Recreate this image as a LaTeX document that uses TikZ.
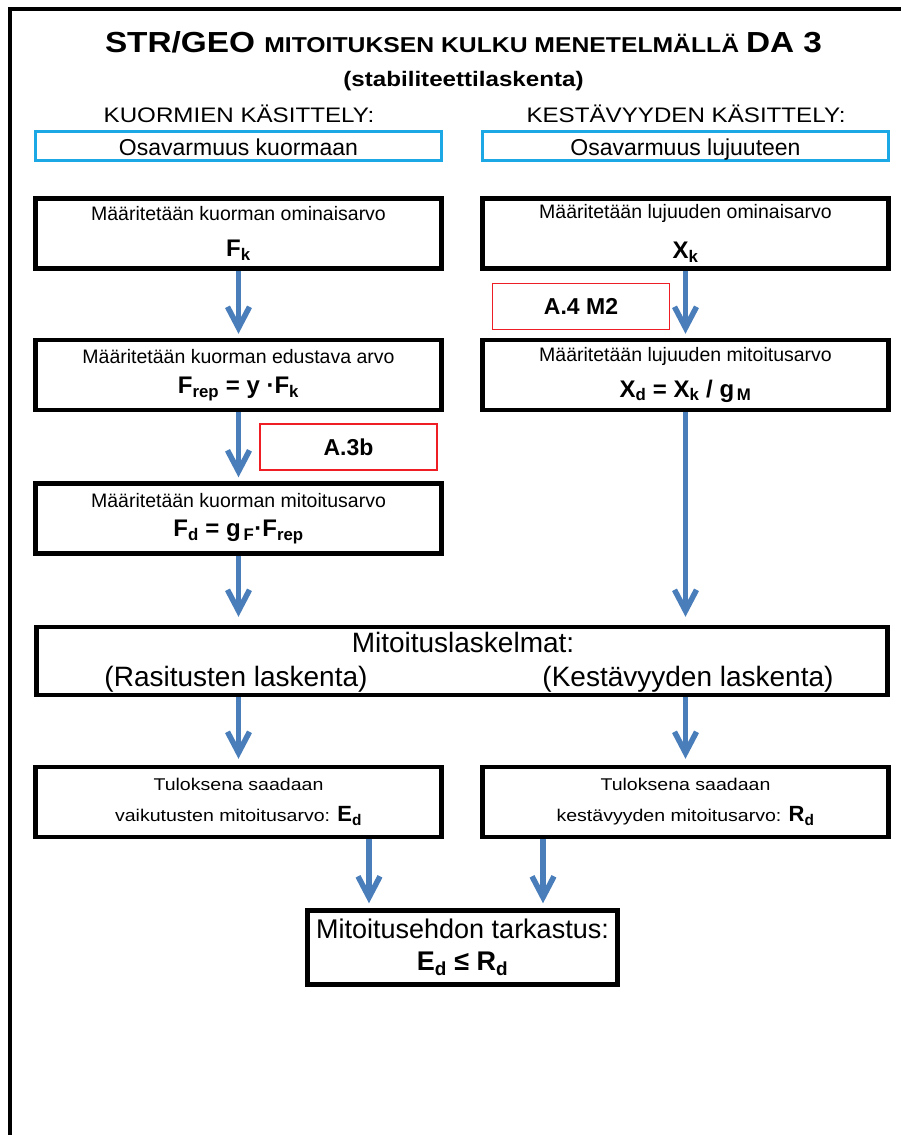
\documentclass[tikz,border=0pt]{standalone}
\usepackage{fontspec}
\setmainfont{Liberation Sans}
\newfontfamily\widefont[FakeStretch=1.15]{Liberation Sans}
\usetikzlibrary{arrows.meta}

\definecolor{arrowblue}{RGB}{74,126,187}
\definecolor{osacyan}{RGB}{28,168,228}
\definecolor{refred}{RGB}{238,30,36}

\newcommand{\fsz}[2]{\fontsize{#1}{#2}\selectfont}

\tikzset{
  stepbox/.style={draw, line width=4.5pt, minimum width=406pt, minimum height=70pt,
    align=center, inner sep=2pt},
  osabox/.style={draw=osacyan, line width=3pt, minimum width=406pt, minimum height=29pt,
    inner sep=0pt, text height=20pt, text depth=1pt, font=\fsz{23}{26}},
  refbox/.style={draw=refred, line width=1.5pt, minimum width=177pt, minimum height=46pt,
    font=\fsz{23}{26}\bfseries},
  arr/.style={draw=arrowblue, line width=5.5pt, shorten >=4pt,
    -{Straight Barb[length=21pt,width=22pt]}},
  bigtext/.style={anchor=base, font=\fsz{28}{32}},
  headtext/.style={anchor=base, font=\widefont\fsz{21}{25}}
}

\begin{document}
\begin{tikzpicture}[x=1pt,y=-1pt]
  % page
  \fill[white] (0,0) rectangle (901,1135);
  \useasboundingbox (0,0) rectangle (901,1135);

  % draw frame
  \draw[line width=4pt] (901,8.5) -- (10,8.5) -- (10,1135);

  % draw titles
  \node[anchor=base] (title) at (463.5,52) {\widefont\bfseries\fsz{29}{34}STR/GEO
    \fsz{21.5}{26}MITOITUKSEN KULKU MENETELMÄLLÄ \fsz{29}{34}DA 3};
  \node[anchor=base] (subtitle) at (463.5,86) {\widefont\bfseries\fsz{21}{25}(stabiliteettilaskenta)};
  \node[headtext] (headF) at (239,122) {KUORMIEN KÄSITTELY:};
  \node[headtext] (headX) at (686,122) {KESTÄVYYDEN KÄSITTELY:};

  % draw partial factor boxes
  \node[osabox] (osaF) at (238.5,146) {Osavarmuus kuormaan};
  \node[osabox] (osaX) at (685.5,146) {Osavarmuus lujuuteen};

  % draw load side
  \node[stepbox] (fk) at (238.5,233.5) {\fsz{19.5}{24}Määritetään kuorman ominaisarvo\\[18pt]
    \fsz{24}{26}\bfseries F\textsubscript{k}};
  \node[stepbox] (frep) at (238.5,375) {\fsz{19.5}{24}Määritetään kuorman edustava arvo\\[13pt]
    \fsz{24}{26}\bfseries F\textsubscript{rep} = y ·F\textsubscript{k}};
  \node[stepbox] (fd) at (238.5,518.5) {\fsz{19.5}{24}Määritetään kuorman mitoitusarvo\\[11pt]
    \fsz{24}{26}\bfseries F\textsubscript{d} = g\textsubscript{\,F}·F\textsubscript{rep}};
  \node[refbox] (a3b) at (348.5,447) {A.3b};

  % draw resistance side
  \node[stepbox] (xk) at (685.5,233.5) {\fsz{19.5}{24}Määritetään lujuuden ominaisarvo\\[18pt]
    \fsz{24}{26}\bfseries X\textsubscript{k}};
  \node[stepbox] (xd) at (685.5,375) {\fsz{19.5}{24}Määritetään lujuuden mitoitusarvo\\[13pt]
    \fsz{24}{26}\bfseries X\textsubscript{d} = X\textsubscript{k} / g\textsubscript{\,M}};
  \node[refbox] (a4m2) at (581,306.5) {A.4 M2};

  % draw calculation box
  \node[stepbox, minimum width=851pt, minimum height=68pt] (calc) at (462,661) {};
  \node[bigtext] (mtitle) at (463,652) {Mitoituslaskelmat:};
  \node[bigtext] (mleft) at (236,686) {(Rasitusten laskenta)};
  \node[bigtext] (mright) at (688,686) {(Kestävyyden laskenta)};

  % draw results
  \node[stepbox] (ed) at (238.5,802) {\widefont\fsz{17}{22}Tuloksena saadaan\\[14pt]
    \widefont\fsz{17}{22}vaikutusten mitoitusarvo: \normalfont\fsz{22}{24}\bfseries E\textsubscript{d}};
  \node[stepbox] (rd) at (685.5,802) {\widefont\fsz{17}{22}Tuloksena saadaan\\[14pt]
    \widefont\fsz{17}{22}kestävyyden mitoitusarvo: \normalfont\fsz{22}{24}\bfseries R\textsubscript{d}};

  % draw check box
  \node[stepbox, minimum width=310pt, minimum height=74pt] (check) at (462.5,947.5)
    {\fsz{27}{30}Mitoitusehdon tarkastus:\\[12pt]\fsz{27}{30}\bfseries E\textsubscript{d} ≤ R\textsubscript{d}};
  \coordinate (inE) at ([xshift=-93.5pt]check.north);
  \coordinate (inR) at ([xshift=80.5pt]check.north);

  % draw arrows
  \draw[arr] (fk) -- (frep);
  \draw[arr] (frep) -- (fd);
  \draw[arr, shorten >=8pt] (fd) -- (fd |- calc.north);
  \draw[arr] (xk) -- (xd);
  \draw[arr, shorten >=8pt] (xd) -- (xd |- calc.north);
  \draw[arr, shorten >=6pt] (calc.south -| ed) -- (ed);
  \draw[arr, shorten >=6pt] (calc.south -| rd) -- (rd);
  \draw[arr, shorten >=5pt] (ed.south -| inE) -- (inE);
  \draw[arr, shorten >=5pt] (rd.south -| inR) -- (inR);
\end{tikzpicture}
\end{document}
